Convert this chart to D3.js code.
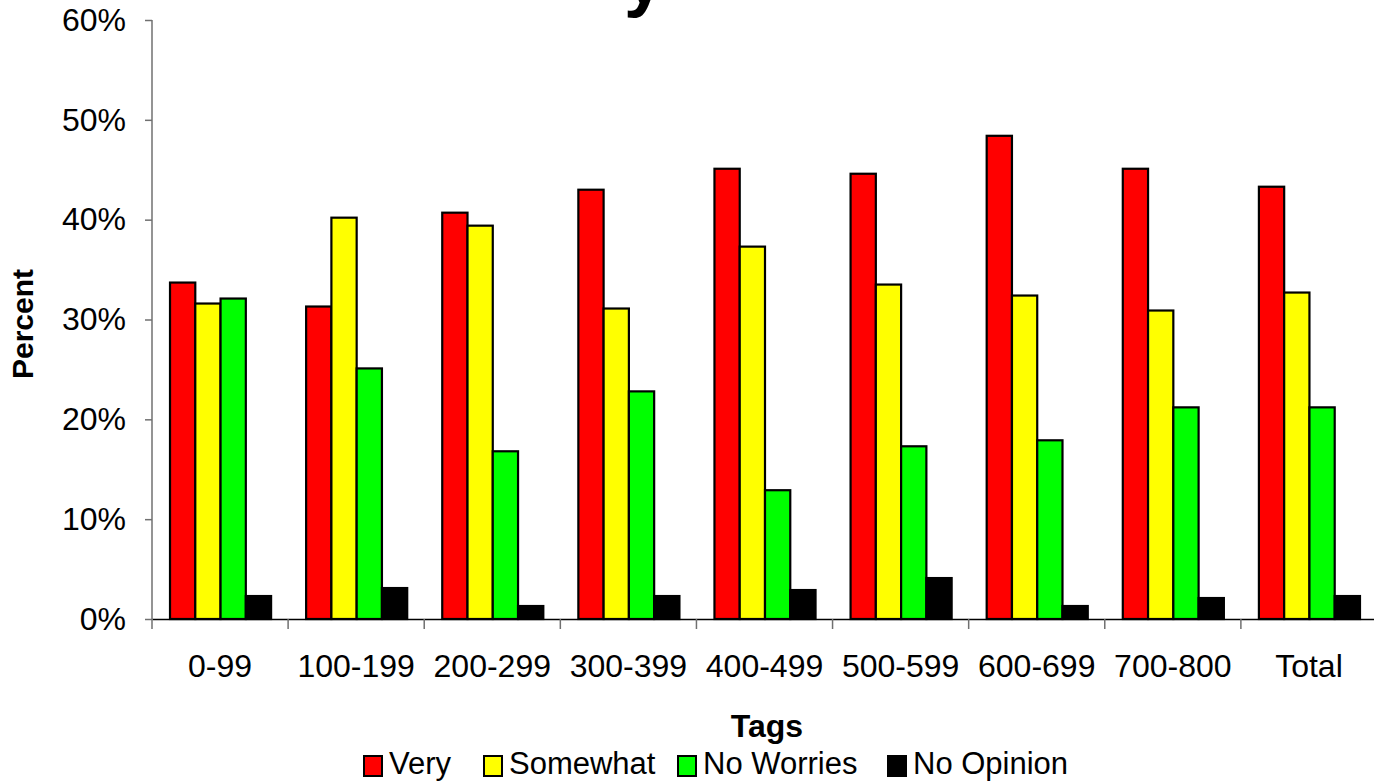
<!DOCTYPE html>
<html>
<head>
<meta charset="utf-8">
<script src="https://cdn.jsdelivr.net/npm/d3@7"></script>
<style>
  html, body { margin: 0; padding: 0; background: #fff; overflow: hidden; }
  svg { display: block; font-family: "Liberation Sans", Arial, sans-serif; }
</style>
</head>
<body>
<svg id="chart" width="1374" height="782"></svg>
<script>
const categories = ["0-99", "100-199", "200-299", "300-399", "400-499", "500-599", "600-699", "700-800", "Total"];
const seriesNames = ["Very", "Somewhat", "No Worries", "No Opinion"];
const very       = [33.7, 31.3, 40.7, 43.0, 45.1, 44.6, 48.4, 45.1, 43.3];
const somewhat   = [31.6, 40.2, 39.4, 31.1, 37.3, 33.5, 32.4, 30.9, 32.7];
const noWorries  = [32.1, 25.1, 16.8, 22.8, 12.9, 17.3, 17.9, 21.2, 21.2];
const noOpinion  = [2.3, 3.1, 1.3, 2.3, 2.9, 4.1, 1.3, 2.1, 2.3];
const yTicks = [0, 10, 20, 30, 40, 50, 60];
const colors = ["#FF0000", "#FFFF00", "#00FF00", "#000000"];

const seriesValues = [very, somewhat, noWorries, noOpinion];

const svg = d3.select("#chart");

const x = d3.scaleBand().domain(categories).range([152, 1377]).padding(0);
const bw = x.bandwidth();
const xs = d3.scaleBand().domain(seriesNames).range([bw * 18 / 136, bw * 119 / 136]).padding(0);
const y = d3.scaleLinear().domain([0, 60]).range([619, 20]);

// Title (mostly above the visible area)
svg.append("text")
  .attr("x", 624).attr("y", 3)
  .attr("font-size", 72).attr("font-weight", "bold")
  .attr("fill", "#000")
  .text("y");

// Bars
const groups = svg.append("g").selectAll("g")
  .data(categories)
  .join("g")
  .attr("transform", d => `translate(${x(d)},0)`);

groups.selectAll("rect")
  .data((c, i) => seriesNames.map((s, j) => ({ s, j, v: seriesValues[j][i] })))
  .join("rect")
  .attr("x", d => xs(d.s))
  .attr("width", xs.bandwidth())
  .attr("y", d => y(d.v))
  .attr("height", d => y(0) - y(d.v))
  .attr("fill", d => colors[d.j])
  .attr("stroke", "#000")
  .attr("stroke-width", 2.2);

// Y axis
const yAxis = d3.axisLeft(y).tickValues(yTicks).tickSize(7).tickFormat(d => d + "%");
const gy = svg.append("g").attr("transform", "translate(152,0)").call(yAxis);
gy.select(".domain").attr("stroke", "#707070").attr("stroke-width", 1.5).attr("d", `M-0,${y(60)}V${y(0)}`);
gy.selectAll(".tick line").attr("stroke", "#707070").attr("stroke-width", 1.5);
gy.selectAll(".tick text")
  .attr("x", -26)
  .attr("font-size", 32)
  .attr("font-family", "Liberation Sans, Arial, sans-serif")
  .attr("fill", "#000");

// X axis
const xAxis = d3.axisBottom(x).tickSize(0).tickSizeOuter(0);
const gx = svg.append("g").attr("transform", `translate(0,${y(0)})`).call(xAxis);
gx.select(".domain").attr("stroke", "#000").attr("stroke-width", 1.5);
gx.selectAll(".tick text")
  .attr("y", 58)
  .attr("dy", 0)
  .attr("font-size", 32)
  .attr("font-family", "Liberation Sans, Arial, sans-serif")
  .attr("fill", "#000");

// Category boundary ticks
const boundaries = categories.map(c => x(c)).concat([x.range()[1]]);
svg.append("g").selectAll("line")
  .data(boundaries)
  .join("line")
  .attr("x1", d => d).attr("x2", d => d)
  .attr("y1", y(0)).attr("y2", y(0) + 10)
  .attr("stroke", "#707070").attr("stroke-width", 1.5);

// Axis titles
svg.append("text")
  .attr("x", 767).attr("y", 737)
  .attr("text-anchor", "middle")
  .attr("font-size", 32).attr("font-weight", "bold")
  .text("Tags");

svg.append("text")
  .attr("transform", "translate(33,324) rotate(-90)")
  .attr("text-anchor", "middle")
  .attr("font-size", 30).attr("font-weight", "bold")
  .text("Percent");

// Legend
const legendX = [364, 484, 678, 888];
const lg = svg.append("g").selectAll("g")
  .data(seriesNames)
  .join("g")
  .attr("transform", (d, i) => `translate(${legendX[i]},0)`);
lg.append("rect")
  .attr("x", 0).attr("y", 756)
  .attr("width", 18).attr("height", 20)
  .attr("fill", (d, i) => colors[i])
  .attr("stroke", "#000").attr("stroke-width", 2);
lg.append("text")
  .attr("x", 25).attr("y", 774)
  .attr("font-size", 31)
  .text(d => d);
</script>
</body>
</html>
